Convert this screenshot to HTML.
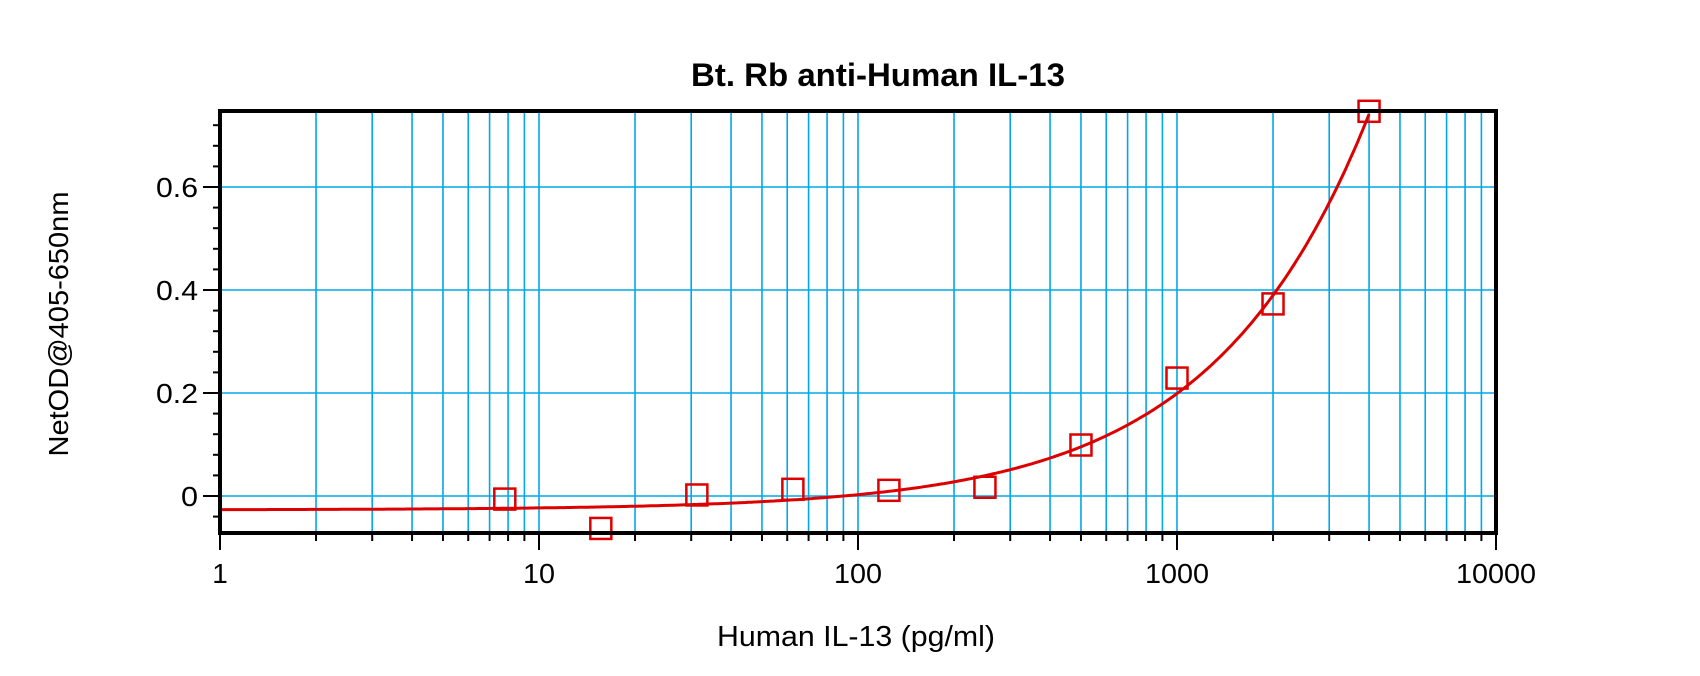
<!DOCTYPE html>
<html><head><meta charset="utf-8"><style>
html,body{margin:0;padding:0;background:#fff;}
svg{display:block;}
text{font-family:"Liberation Sans",Arial,sans-serif;fill:#000;}
</style></head><body>
<svg id="s" width="1700" height="676" viewBox="0 0 1700 676" xmlns="http://www.w3.org/2000/svg">
<rect width="1700" height="676" fill="#fff"/>
<g id="grid"></g>
<g id="ticks"></g>
<path id="curve" fill="none" stroke="#DD0000" stroke-width="3"/>
<g id="pts" fill="none" stroke="#DD0000" stroke-width="2.5"></g>
<rect x="220" y="111" width="1276" height="422" fill="none" stroke="#000" stroke-width="4"/>
<text x="878" y="86" font-size="32" font-weight="bold" text-anchor="middle" textLength="374" lengthAdjust="spacingAndGlyphs">Bt. Rb anti-Human IL-13</text>
<text x="856" y="646" font-size="29" text-anchor="middle" textLength="278" lengthAdjust="spacingAndGlyphs">Human IL-13 (pg/ml)</text>
<text transform="translate(68,324) rotate(-90)" font-size="28" text-anchor="middle" textLength="265" lengthAdjust="spacingAndGlyphs">NetOD@405-650nm</text>
<g font-size="28" text-anchor="end">
<text x="198" y="197" textLength="42" lengthAdjust="spacingAndGlyphs">0.6</text>
<text x="198" y="300" textLength="42" lengthAdjust="spacingAndGlyphs">0.4</text>
<text x="198" y="403" textLength="42" lengthAdjust="spacingAndGlyphs">0.2</text>
<text x="198" y="506" textLength="17" lengthAdjust="spacingAndGlyphs">0</text>
</g>
<g font-size="28" text-anchor="middle">
<text x="220" y="583">1</text>
<text x="539" y="583" textLength="32" lengthAdjust="spacingAndGlyphs">10</text>
<text x="858" y="583" textLength="48" lengthAdjust="spacingAndGlyphs">100</text>
<text x="1177" y="583" textLength="64" lengthAdjust="spacingAndGlyphs">1000</text>
<text x="1496" y="583" textLength="80" lengthAdjust="spacingAndGlyphs">10000</text>
</g>
</svg>
<script>
var NS="http://www.w3.org/2000/svg";
function X(v){return 220+319*Math.log10(v);}
function Y(v){return 496-v*515;}
function el(p,t,a){var e=document.createElementNS(NS,t);for(var k in a)e.setAttribute(k,a[k]);p.appendChild(e);return e;}
var g=document.getElementById('grid'),tk=document.getElementById('ticks');
for(var d=0;d<4;d++){for(var m=1;m<=10;m++){var v=Math.pow(10,d)*m;if(d>0&&m==1)continue;var x=X(v);
 if(x>220.5&&x<1495.5)el(g,'line',{x1:x,y1:111,x2:x,y2:533,stroke:'#00A8E8','stroke-width':1.6});
 var major=(m==1||m==10);
 el(tk,'line',{x1:x,y1:533,x2:x,y2:533+(major?17:8),stroke:'#000','stroke-width':2});}}
el(tk,'line',{x1:220,y1:533,x2:220,y2:550,stroke:'#000','stroke-width':2});
[0,0.2,0.4,0.6].forEach(function(v){el(g,'line',{x1:220,y1:Y(v),x2:1496,y2:Y(v),stroke:'#00A8E8','stroke-width':1.6});});
for(var i=-1;i<=18;i++){var v=i*0.04;var y=Y(v);if(y>533||y<111)continue;var major=Math.abs(v*5-Math.round(v*5))<1e-6;
 el(tk,'line',{x1:major?203:213,y1:y,x2:220,y2:y,stroke:'#000','stroke-width':2});}
var dp="";for(var t=0;t<=400;t++){var lx=t/400*Math.log10(4000);var xv=Math.pow(10,lx);var yv=-0.027+0.000507*Math.pow(xv,0.883);dp+=(t?"L":"M")+X(xv).toFixed(1)+" "+Y(yv).toFixed(1);}
document.getElementById('curve').setAttribute('d',dp);
var P=[[7.8125,-0.006],[15.625,-0.063],[31.25,0.002],[62.5,0.013],[125,0.011],[250,0.017],[500,0.099],[1000,0.229],[2000,0.373],[4000,0.747]];
var pg=document.getElementById('pts');
P.forEach(function(p){el(pg,'rect',{x:X(p[0])-10.5,y:Y(p[1])-10.5,width:21,height:21});});
</script>
</body></html>
